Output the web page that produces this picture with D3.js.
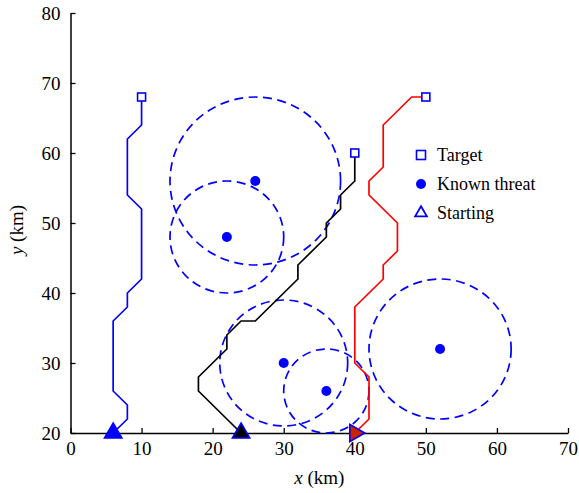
<!DOCTYPE html>
<html>
<head>
<meta charset="utf-8">
<script src="https://cdn.jsdelivr.net/npm/d3@7"></script>
<style>
  body { margin: 0; background: #fff; }
  svg text { font-family: 'Liberation Serif', 'Times New Roman', Tinos, 'DejaVu Serif', serif; }
</style>
</head>
<body>
<div id="chart"></div>
<script>
// paths (x, y in km)
const bluePath = [[6,20],[8,22],[8,24],[6,26],[6,36],[8,38],[8,40],[10,42],[10,52],[8,54],[8,62],[10,64],[10,68]];
const blackPath = [[24,20],[18,26],[18,28],[22,32],[22,34],[24,36],[26,36],[32,42],[32,44],[36,48],[36,50],[38,52],[38,54],[40,56],[40,60]];
const redPath = [[40,20],[42,22],[42,28],[40,30],[40,38],[44,42],[44,44],[46,46],[46,50],[42,54],[42,56],[44,58],[44,64],[48,68],[50,68]];

// known threats: centre x, centre y, radius
const threatX = [26, 22, 30, 36, 52];
const threatY = [56, 48, 30, 26, 32];
const threatR = [12, 8, 9, 6, 10];

const xTicks = [0, 10, 20, 30, 40, 50, 60, 70];
const yTicks = [20, 30, 40, 50, 60, 70, 80];
const legendLabels = ["Target", "Known threat", "Starting"];

var serif = "'Liberation Serif', 'Times New Roman', Tinos, 'DejaVu Serif', serif";

var width = 579,
    height = 493,
    margin = {left: 70.5, right: 11, top: 13, bottom: 60};

var svg = d3.select("#chart")
  .append("svg")
    .attr("width", width)
    .attr("height", height);

var x = d3.scaleLinear().domain([0, 70]).range([margin.left, width - margin.right]);
var y = d3.scaleLinear().domain([20, 80]).range([height - margin.bottom, margin.top]);

// axes, ticks pointing inward
var xAxis = svg.append("g")
  .attr("transform", "translate(0," + y(20) + ")")
  .call(d3.axisBottom(x).tickValues(xTicks).tickSizeInner(-5).tickSizeOuter(0).tickPadding(9));
var yAxis = svg.append("g")
  .attr("transform", "translate(" + x(0) + ",0)")
  .call(d3.axisLeft(y).tickValues(yTicks).tickSizeInner(-5).tickSizeOuter(0).tickPadding(10));

[xAxis, yAxis].forEach(function(a) {
  a.attr("font-family", serif);
  a.select(".domain").attr("stroke", "#000").attr("stroke-width", 1.5);
  a.selectAll(".tick line").attr("stroke", "#000").attr("stroke-width", 1.3);
  a.selectAll(".tick text")
    .attr("fill", "#000")
    .style("font-size", "19px")
    .style("font-family", serif);
});

// threat circles
var threats = threatX.map(function(d, i) { return {x: d, y: threatY[i], r: threatR[i]}; });

svg.selectAll(".zone")
  .data(threats)
  .enter().append("ellipse")
    .attr("cx", function(d) { return x(d.x); })
    .attr("cy", function(d) { return y(d.y); })
    .attr("rx", function(d) { return x(d.r) - x(0); })
    .attr("ry", function(d) { return y(20) - y(20 + d.r); })
    .attr("fill", "none")
    .attr("stroke", "#0000ff")
    .attr("stroke-width", 1.7)
    .attr("stroke-dasharray", "9,5.5");

svg.selectAll(".threat")
  .data(threats)
  .enter().append("circle")
    .attr("cx", function(d) { return x(d.x); })
    .attr("cy", function(d) { return y(d.y); })
    .attr("r", 5)
    .attr("fill", "#0000ff");

// paths
var line = d3.line().x(function(d) { return x(d[0]); }).y(function(d) { return y(d[1]); });
var paths = [
  {pts: bluePath, color: "#0000ff"},
  {pts: blackPath, color: "#000000"},
  {pts: redPath, color: "#ff0000"}
];

svg.selectAll(".route")
  .data(paths)
  .enter().append("path")
    .attr("d", function(d) { return line(d.pts); })
    .attr("fill", "none")
    .attr("stroke", function(d) { return d.color; })
    .attr("stroke-width", 1.7);

// targets (last point of each path)
svg.selectAll(".target")
  .data(paths)
  .enter().append("rect")
    .attr("x", function(d) { return x(d.pts[d.pts.length - 1][0]) - 4; })
    .attr("y", function(d) { return y(d.pts[d.pts.length - 1][1]) - 4; })
    .attr("width", 8)
    .attr("height", 8)
    .attr("fill", "#fff")
    .attr("stroke", "#0000ff")
    .attr("stroke-width", 1.6);

// starting markers
var tri = d3.symbol().type(d3.symbolTriangle).size(130);
var starts = [
  {pt: bluePath[0], fill: "#0000ff", rot: 0},
  {pt: blackPath[0], fill: "#000000", rot: 0},
  {pt: redPath[0], fill: "#cc2200", rot: 90}
];
svg.selectAll(".start")
  .data(starts)
  .enter().append("path")
    .attr("d", tri)
    .attr("transform", function(d) {
      return "translate(" + x(d.pt[0]) + "," + y(d.pt[1]) + ") rotate(" + d.rot + ")";
    })
    .attr("fill", function(d) { return d.fill; })
    .attr("stroke", "#0000ff")
    .attr("stroke-width", 1.6);

// legend
var lg = svg.append("g").attr("transform", "translate(421,155)");
var rowH = 29;
lg.append("rect").attr("x", -4.5).attr("y", -4.5).attr("width", 9).attr("height", 9)
  .attr("fill", "#fff").attr("stroke", "#0000ff").attr("stroke-width", 1.6);
lg.append("circle").attr("cx", 0).attr("cy", rowH).attr("r", 5).attr("fill", "#0000ff");
lg.append("path").attr("d", d3.symbol().type(d3.symbolTriangle).size(60))
  .attr("transform", "translate(0," + (2 * rowH) + ")")
  .attr("fill", "#fff").attr("stroke", "#0000ff").attr("stroke-width", 1.8);
lg.selectAll("text")
  .data(legendLabels)
  .enter().append("text")
    .attr("x", 16)
    .attr("y", function(d, i) { return i * rowH + 6; })
    .style("font-size", "18px")
    .style("font-family", serif)
    .text(function(d) { return d; });

// axis titles
var xt = svg.append("text")
  .attr("x", x(35))
  .attr("y", 484)
  .attr("text-anchor", "middle")
  .style("font-size", "19px")
  .style("font-family", serif);
xt.append("tspan").style("font-style", "italic").text("x");
xt.append("tspan").text(" (km)");

var yt = svg.append("text")
  .attr("transform", "translate(23," + y(49) + ") rotate(-90)")
  .attr("text-anchor", "middle")
  .style("font-size", "19px")
  .style("font-family", serif);
yt.append("tspan").style("font-style", "italic").text("y");
yt.append("tspan").text(" (km)");
</script>
</body>
</html>
